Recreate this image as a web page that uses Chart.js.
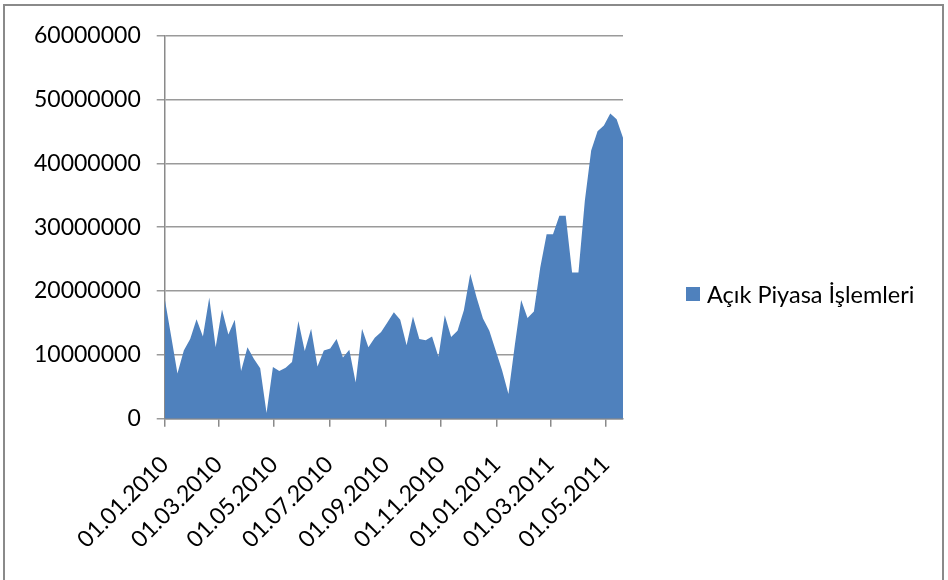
<!DOCTYPE html>
<html>
<head>
<meta charset="utf-8">
<script src="https://cdn.jsdelivr.net/npm/chart.js@4.4.1/dist/chart.umd.min.js"></script>
<style>
  html, body { margin: 0; padding: 0; background: #fff; overflow: hidden; }
  #wrap { position: absolute; left: 0; top: 0; width: 948px; height: 580px; }
  #frame { position: absolute; left: 3px; top: 4px; width: 937px; height: 600px; border: 2px solid #8a8a8a; pointer-events: none; }
  #legend { position: absolute; left: 686px; top: 279px; height: 30px; display: flex; align-items: center;
            font-family: Lato, sans-serif; font-size: 23.5px; color: #000; white-space: nowrap; }
  #legend .box { width: 14px; height: 14px; background: #4f81bd; margin-right: 7px; }
</style>
</head>
<body>
<div id="wrap"><canvas id="acikChart"></canvas></div>
<div id="legend"><span class="box"></span><span id="legendText"></span></div>
<div id="frame"></div>
<script>
// haftalik tarihler (cuma)
const dates = [
  "01.01.2010", "08.01.2010", "15.01.2010", "22.01.2010", "29.01.2010",
  "05.02.2010", "12.02.2010", "19.02.2010", "26.02.2010",
  "05.03.2010", "12.03.2010", "19.03.2010", "26.03.2010",
  "02.04.2010", "09.04.2010", "16.04.2010", "23.04.2010", "30.04.2010",
  "07.05.2010", "14.05.2010", "21.05.2010", "28.05.2010",
  "04.06.2010", "11.06.2010", "18.06.2010", "25.06.2010",
  "02.07.2010", "09.07.2010", "16.07.2010", "23.07.2010", "30.07.2010",
  "06.08.2010", "13.08.2010", "20.08.2010", "27.08.2010",
  "03.09.2010", "10.09.2010", "17.09.2010", "24.09.2010",
  "01.10.2010", "08.10.2010", "15.10.2010", "22.10.2010", "29.10.2010",
  "05.11.2010", "12.11.2010", "19.11.2010", "26.11.2010",
  "03.12.2010", "10.12.2010", "17.12.2010", "24.12.2010", "31.12.2010",
  "07.01.2011", "14.01.2011", "21.01.2011", "28.01.2011",
  "04.02.2011", "11.02.2011", "18.02.2011", "25.02.2011",
  "04.03.2011", "11.03.2011", "18.03.2011", "25.03.2011",
  "01.04.2011", "08.04.2011", "15.04.2011", "22.04.2011", "29.04.2011",
  "06.05.2011", "13.05.2011", "20.05.2011"
];

// Açık Piyasa İşlemleri
const acikPiyasa = [
  18800000, 13000000, 7100000, 10700000, 12500000,
  15600000, 12900000, 19000000, 11200000,
  17100000, 13200000, 15500000, 7500000,
  11200000, 9400000, 7900000, 900000, 8100000,
  7500000, 8000000, 8900000, 15300000,
  10600000, 14100000, 8200000, 10700000,
  11000000, 12500000, 9600000, 10800000, 5700000,
  14100000, 11200000, 12700000, 13600000,
  15100000, 16700000, 15500000, 11500000,
  16000000, 12500000, 12300000, 12900000, 9700000,
  16200000, 12800000, 13800000, 17000000,
  22700000, 19000000, 15700000, 13800000, 10700000,
  7600000, 3900000, 11500000, 18600000,
  15800000, 16800000, 23700000, 28900000,
  28900000, 31800000, 31800000, 22900000,
  22900000, 34100000, 42000000, 45000000, 45900000,
  47800000, 46900000, 44000000
];

const seriesLabel = "Açık Piyasa İşlemleri";

// eksen etiketleri
const xTickLabels = ["01.01.2010", "01.03.2010", "01.05.2010", "01.07.2010", "01.09.2010",
  "01.11.2010", "01.01.2011", "01.03.2011", "01.05.2011"];
const yTicks = [0, 10000000, 20000000, 30000000, 40000000, 50000000, 60000000];

// tarih -> 01.01.2010'dan itibaren gun sayisi
function dayOf(s) {
  const p = s.split(".");
  return (Date.UTC(+p[2], +p[1] - 1, +p[0]) - Date.UTC(2010, 0, 1)) / 86400000;
}

const points = dates.map((d, i) => ({ x: dayOf(d), y: acikPiyasa[i] }));
const font = { family: "Lato, sans-serif", size: 23 };

document.getElementById("legendText").innerText = seriesLabel;

let ctx = document.getElementById("acikChart").getContext("2d");

let acikChart = new Chart(ctx, {
  type: "line",
  data: {
    datasets: [{
      label: seriesLabel,
      data: points,
      fill: "origin",
      backgroundColor: "#4f81bd",
      borderColor: "#4f81bd",
      borderWidth: 0,
      pointRadius: 0,
      tension: 0
    }]
  },
  options: {
    responsive: true,
    maintainAspectRatio: false,
    animation: false,
    layout: {
      padding: { left: 18, top: 35.5, right: 325, bottom: 2.5 }
    },
    plugins: {
      tooltip: { enabled: false },
      legend: { display: false } // legend HTML ile saga
    },
    scales: {
      x: {
        type: "linear",
        min: 0,
        max: dayOf(dates[dates.length - 1]),
        afterBuildTicks: (axis) => {
          axis.ticks = xTickLabels.map(s => ({ value: dayOf(s) }));
        },
        ticks: {
          autoSkip: false,
          minRotation: 45,
          maxRotation: 45,
          padding: 24,
          color: "#000",
          font: font,
          callback: (value) => {
            const lbl = xTickLabels.find(s => dayOf(s) === value);
            return lbl || "";
          }
        },
        grid: {
          drawOnChartArea: false,
          drawTicks: true,
          tickLength: 8,
          color: "#8a8a8a",
          lineWidth: 1.5
        },
        border: { color: "#8a8a8a", width: 1.5 }
      },
      y: {
        min: 0,
        max: 60000000,
        afterBuildTicks: (axis) => {
          axis.ticks = yTicks.map(v => ({ value: v }));
        },
        ticks: {
          padding: 16,
          color: "#000",
          font: font,
          callback: (value) => String(value)
        },
        grid: {
          color: "#9a9a9a",
          lineWidth: 1.5,
          tickLength: 8
        },
        border: { color: "#8a8a8a", width: 1.5 }
      }
    }
  }
});
</script>
</body>
</html>
